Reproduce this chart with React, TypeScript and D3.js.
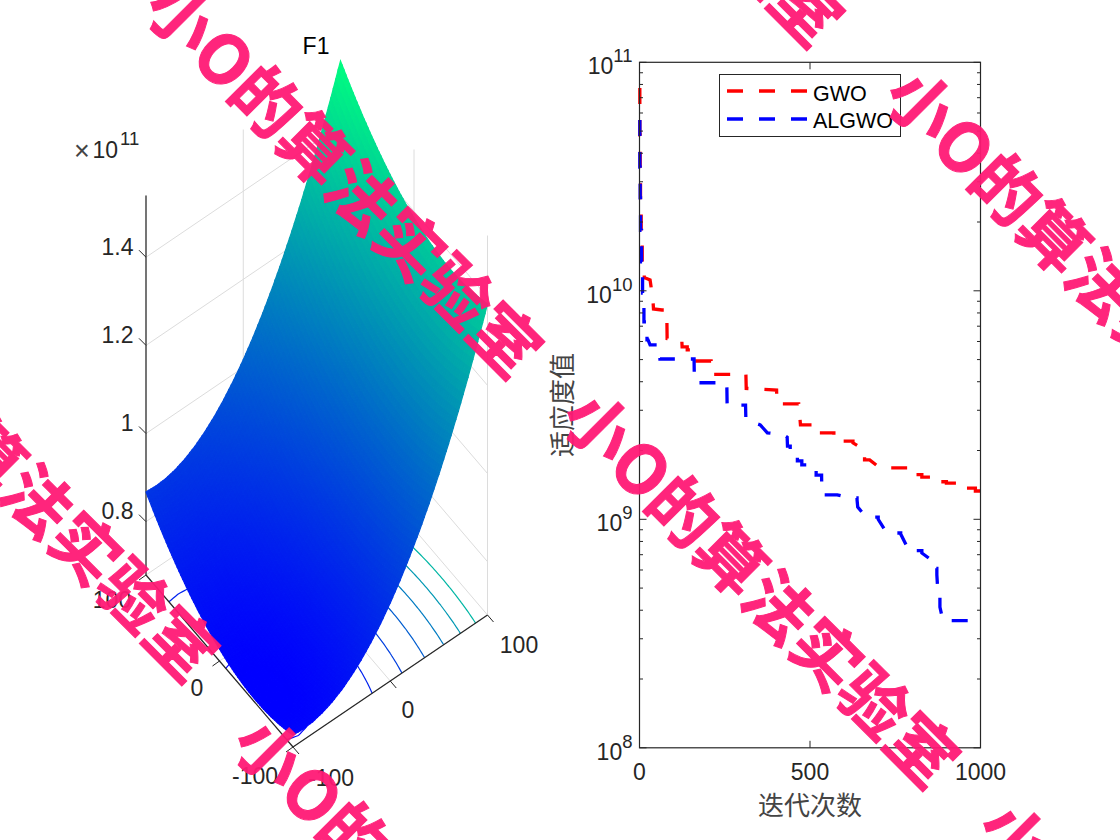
import React from 'react';
import * as d3 from 'd3';

// 左图 F1 曲面，单位 1e11；两条剖面相加得到 z
const zBase = 0.684;
const zAlongX = [0.002, 0, 0.0017, 0.0073, 0.0166, 0.0297, 0.0466, 0.0672, 0.0917, 0.1199, 0.1519, 0.1877, 0.2273, 0.2707, 0.3178, 0.3688, 0.4235, 0.482, 0.5443, 0.6104, 0.6803];
const zAlongY = [0.0202, 0.0129, 0.0073, 0.0032, 0.0008, 0, 0.0008, 0.0032, 0.0073, 0.0129, 0.0202, 0.029, 0.0395, 0.0516, 0.0653, 0.0807, 0.0976, 0.1162, 0.1363, 0.1581, 0.1815];
const contourLevels = [0.7, 0.8, 0.9, 1.0, 1.1, 1.2, 1.3, 1.4, 1.5];
const zTicks = [0.8, 1, 1.2, 1.4];
const xyTicks = [-100, 0, 100];

// 右图收敛曲线
const gwoIter = [1, 1, 2, 2, 3, 3, 5, 5, 8, 8, 14, 14, 16, 31, 34, 40, 41, 66, 80, 80, 81, 124, 125, 140, 140, 148, 149, 210, 211, 312, 313, 402, 403, 467, 470, 472, 507, 508, 570, 570, 588, 626, 626, 660, 660, 675, 705, 780, 780, 828, 828, 863, 863, 900, 900, 940, 940, 985, 985, 1000];
const gwoVal = [7.72e10, 4.81e10, 4.81e10, 3.38e10, 3.38e10, 2.5e10, 2.5e10, 1.81e10, 1.81e10, 1.34e10, 1.34e10, 1.14e10, 1.14e10, 1.115e10, 1.04e10, 8.84e9, 8.33e9, 8.24e9, 8.24e9, 8.16e9, 6.18e9, 6.09e9, 5.68e9, 5.68e9, 5.51e9, 5.51e9, 4.93e9, 4.93e9, 4.31e9, 4.31e9, 3.74e9, 3.68e9, 3.2e9, 3.2e9, 2.83e9, 2.59e9, 2.59e9, 2.39e9, 2.39e9, 2.2e9, 2.2e9, 2.2e9, 2.16e9, 2.01e9, 1.82e9, 1.82e9, 1.68e9, 1.68e9, 1.57e9, 1.57e9, 1.53e9, 1.53e9, 1.46e9, 1.46e9, 1.44e9, 1.44e9, 1.37e9, 1.37e9, 1.33e9, 1.33e9];
const algwoIter = [1, 1, 2, 2, 3, 3, 6, 6, 9, 9, 13, 13, 22, 22, 25, 31, 59, 60, 160, 161, 256, 257, 311, 312, 354, 375, 423, 433, 434, 442, 442, 450, 450, 463, 463, 476, 476, 489, 489, 502, 502, 518, 518, 534, 534, 535, 580, 618, 638, 638, 640, 665, 700, 700, 725, 766, 766, 785, 805, 805, 828, 828, 860, 866, 866, 872, 872, 875, 881, 881, 890, 1000];
const algwoVal = [5.59e10, 3.48e10, 3.48e10, 2.55e10, 2.55e10, 1.84e10, 1.84e10, 1.34e10, 1.34e10, 9.77e9, 9.77e9, 7.31e9, 7.31e9, 6.1e9, 6.1e9, 5.8e9, 5.8e9, 5.03e9, 5.03e9, 3.96e9, 3.96e9, 3.16e9, 3.16e9, 2.72e9, 2.59e9, 2.39e9, 2.34e9, 2.29e9, 2.09e9, 2.09e9, 1.98e9, 1.98e9, 1.87e9, 1.87e9, 1.8e9, 1.8e9, 1.73e9, 1.73e9, 1.66e9, 1.66e9, 1.6e9, 1.6e9, 1.56e9, 1.56e9, 1.53e9, 1.28e9, 1.28e9, 1.24e9, 1.24e9, 1.215e9, 1.13e9, 1.023e9, 1.023e9, 1e9, 8.71e8, 8.71e8, 8.62e8, 7.57e8, 7.57e8, 7.3e8, 7.3e8, 7.12e8, 6.57e8, 6.57e8, 6.1e8, 6.1e8, 5.71e8, 4.81e8, 4.81e8, 4.13e8, 3.6e8, 3.6e8];
const decades = [1e8, 1e9, 1e10, 1e11];
const iterTicks = [0, 500, 1000];

// 水印起点
const stamp = '小O的算法实验室';
const stampStarts = [[157, -6], [574, 404], [245, 730], [897, 82], [-167, 298], [458, -337], [990, 815]];

const ink = '#262626';
const latin = '"Liberation Sans", Arial, sans-serif';
const cjk = '"Noto Sans CJK SC", sans-serif';

// 三维到屏幕的投影
const toU = d3.scaleLinear().domain([-100, 100]).range([0, 1]);
const uSx = d3.scaleLinear().domain([0, 1]).range([0, 194.5]);
const uSy = d3.scaleLinear().domain([0, 1]).range([0, -132]);
const vSx = d3.scaleLinear().domain([0, 1]).range([0, -147]);
const vSy = d3.scaleLinear().domain([0, 1]).range([0, -172]);
const zSy = d3.scaleLinear().domain([0.679, 1.54]).range([0, -379.5]);
const project = (x: number, y: number, z: number): [number, number] => {
  const u = toU(x), v = toU(y);
  return [293 + uSx(u) + vSx(v), 747 + uSy(u) + vSy(v) + zSy(z)];
};

const profile = (arr: number[], t: number) => {
  const p = t * (arr.length - 1);
  const i = Math.min(Math.floor(p), arr.length - 2);
  return arr[i] + (arr[i + 1] - arr[i]) * (p - i);
};
const surfaceZ = (u: number, v: number) => zBase + profile(zAlongX, u) + profile(zAlongY, v);
const colorOf = (z: number) => {
  const t = Math.max(0, Math.min(1, (z - 0.686) / (1.546 - 0.686)));
  return d3.rgb(0, 255 * t, 255 - 127.5 * t).formatHex();
};

const sub = 80;

function surfaceQuads() {
  const out: { d: string; c: string }[] = [];
  for (let i = sub - 1; i >= 0; i--) {
    for (let j = sub - 1; j >= 0; j--) {
      const corners = [[i, j], [i + 1, j], [i + 1, j + 1], [i, j + 1]].map(([a, b]) =>
        project(a / sub * 200 - 100, b / sub * 200 - 100, surfaceZ(a / sub, b / sub))
      );
      out.push({
        d: 'M' + corners.map((p) => p[0].toFixed(2) + ',' + p[1].toFixed(2)).join('L') + 'Z',
        c: colorOf(surfaceZ((i + 0.5) / sub, (j + 0.5) / sub)),
      });
    }
  }
  return out;
}

function contourLines() {
  const n = sub + 1;
  const values: number[] = [];
  for (let j = 0; j < n; j++) for (let i = 0; i < n; i++) values.push(surfaceZ(i / sub, j / sub));
  const res = d3.contours().size([n, n]).thresholds(contourLevels)(values);
  const clampG = (g: number) => Math.max(0, Math.min(sub, g - 0.5));
  return res.map((mp) => {
    let d = '';
    mp.coordinates.forEach((poly) => poly.forEach((ring) => {
      for (let k = 1; k < ring.length; k++) {
        const a = ring[k - 1].map(clampG), b = ring[k].map(clampG);
        const onEdge = (a[0] === b[0] && (a[0] === 0 || a[0] === sub)) || (a[1] === b[1] && (a[1] === 0 || a[1] === sub));
        if (onEdge) continue;
        const pa = project(a[0] / sub * 200 - 100, a[1] / sub * 200 - 100, 0.679);
        const pb = project(b[0] / sub * 200 - 100, b[1] / sub * 200 - 100, 0.679);
        d += `M${pa[0].toFixed(2)},${pa[1].toFixed(2)}L${pb[0].toFixed(2)},${pb[1].toFixed(2)}`;
      }
    }));
    return { d, c: colorOf(mp.value) };
  });
}

function Surface3D() {
  const quads = surfaceQuads();
  const lines = contourLines();
  const corner = (x: number, y: number, z: number) => project(x, y, z);
  const seg = (a: [number, number], b: [number, number], key: string, stroke = '#dcdcdc', w = 1) => (
    <line key={key} x1={a[0]} y1={a[1]} x2={b[0]} y2={b[1]} stroke={stroke} strokeWidth={w} />
  );
  const grid: React.ReactNode[] = [];
  xyTicks.forEach((t) => {
    grid.push(seg(corner(t, 100, 0.679), corner(t, 100, 1.54), 'gx' + t));
    grid.push(seg(corner(100, t, 0.679), corner(100, t, 1.54), 'gy' + t));
    grid.push(seg(corner(t, -100, 0.679), corner(t, 100, 0.679), 'fx' + t));
    grid.push(seg(corner(-100, t, 0.679), corner(100, t, 0.679), 'fy' + t));
  });
  zTicks.forEach((z) => {
    grid.push(seg(corner(-100, 100, z), corner(100, 100, z), 'wl' + z));
    grid.push(seg(corner(100, 100, z), corner(100, -100, z), 'wr' + z));
  });
  const front = corner(-100, -100, 0.679);
  const left = corner(-100, 100, 0.679);
  const right = corner(100, -100, 0.679);
  const top = corner(-100, 100, 1.54);
  return (
    <g>
      {grid}
      {lines.map((l, i) => <path key={i} d={l.d} fill="none" stroke={l.c} strokeWidth={1.2} />)}
      {seg(front, left, 'ay', ink, 1.2)}
      {seg(front, right, 'ax', ink, 1.2)}
      {seg(left, top, 'az', ink, 1.2)}
      {xyTicks.map((t) => {
        const a = corner(t, -100, 0.679);
        const b = corner(-100, t, 0.679);
        return (
          <g key={t} stroke={ink} strokeWidth={1}>
            <line x1={a[0]} y1={a[1]} x2={a[0] + 6} y2={a[1] + 7} />
            <line x1={b[0]} y1={b[1]} x2={b[0] - 7} y2={b[1] + 5} />
          </g>
        );
      })}
      {zTicks.map((z) => {
        const a = corner(-100, 100, z);
        return <line key={z} x1={a[0]} y1={a[1]} x2={a[0] - 7} y2={a[1] - 7} stroke={ink} strokeWidth={1} />;
      })}
      {quads.map((q, i) => <path key={i} d={q.d} fill={q.c} stroke={q.c} strokeWidth={1.2} />)}
      <g fontFamily={latin} fontSize={23} fill={ink}>
        {zTicks.map((z) => (
          <text key={z} x={133.5} y={corner(-100, 100, z)[1] - 2.5} textAnchor="end">{z}</text>
        ))}
        <text x={519} y={653} textAnchor="middle">100</text>
        <text x={408} y={718} textAnchor="middle">0</text>
        <text x={331} y={786} textAnchor="middle">-100</text>
        <text x={112} y={608} textAnchor="middle">100</text>
        <text x={197} y={696} textAnchor="middle">0</text>
        <text x={255} y={784} textAnchor="middle">-100</text>
        <text x={74} y={160} fontSize={27} fill="#444">×</text>
        <text x={92.5} y={158}>10<tspan fontSize={18.5} dx={2} dy={-13}>11</tspan></text>
      </g>
      <text x={316} y={54} fontFamily={latin} fontSize={23} fill="#000" textAnchor="middle">F1</text>
    </g>
  );
}

function Convergence() {
  const x = d3.scaleLinear().domain([0, 1000]).range([639.5, 980.5]);
  const y = d3.scaleLog().domain([1e8, 1e11]).range([747.8, 62.3]);
  const line = d3.line<[number, number]>().x((d) => x(d[0])).y((d) => y(d[1]));
  const minor = y.ticks().filter((t) => !decades.some((m) => Math.abs(m - t) < 1));
  const gwo = gwoIter.map((t, i) => [t, gwoVal[i]] as [number, number]);
  const algwo = algwoIter.map((t, i) => [t, algwoVal[i]] as [number, number]);
  const [x0, x1] = x.range();
  const [y0, y1] = y.range();
  return (
    <g>
      <path d={line(gwo) || ''} fill="none" stroke="#ff0000" strokeWidth={3.3} strokeDasharray="16 16" />
      <path d={line(algwo) || ''} fill="none" stroke="#0000ff" strokeWidth={3.3} strokeDasharray="16 16" />
      <rect x={x0} y={y1} width={x1 - x0} height={y0 - y1} fill="none" stroke={ink} strokeWidth={1.2} />
      {iterTicks.map((t) => (
        <g key={t}>
          <line x1={x(t)} x2={x(t)} y1={y0} y2={y0 - 7} stroke={ink} />
          <line x1={x(t)} x2={x(t)} y1={y1} y2={y1 + 7} stroke={ink} />
          <text x={x(t)} y={779.5} textAnchor="middle" fontFamily={latin} fontSize={23} fill={ink}>{t}</text>
        </g>
      ))}
      {decades.map((d) => (
        <g key={d}>
          <line x1={x0} x2={x0 + 7} y1={y(d)} y2={y(d)} stroke={ink} />
          <line x1={x1} x2={x1 - 7} y1={y(d)} y2={y(d)} stroke={ink} />
          <text x={632.5} y={y(d) + 12} textAnchor="end" fontFamily={latin} fontSize={23} fill={ink}>
            10<tspan fontSize={18.5} dy={-12}>{Math.round(Math.log10(d))}</tspan>
          </text>
        </g>
      ))}
      {minor.map((d) => (
        <g key={d} stroke={ink}>
          <line x1={x0} x2={x0 + 3.5} y1={y(d)} y2={y(d)} />
          <line x1={x1} x2={x1 - 3.5} y1={y(d)} y2={y(d)} />
        </g>
      ))}
      <text x={810} y={815} textAnchor="middle" fontFamily={cjk} fontSize={26} fill="#444">迭代次数</text>
      <text transform="translate(572,405) rotate(-90)" textAnchor="middle" fontFamily={cjk} fontSize={26} fill="#444">适应度值</text>
      <rect x={719.5} y={74.5} width={181} height={62} fill="#fff" stroke={ink} strokeWidth={1} />
      <line x1={727} x2={807} y1={91} y2={91} stroke="#ff0000" strokeWidth={3.3} strokeDasharray="16 16" />
      <line x1={727} x2={807} y1={119} y2={119} stroke="#0000ff" strokeWidth={3.3} strokeDasharray="16 16" />
      <text x={813} y={100.5} fontFamily={latin} fontSize={21.5} fill="#000">GWO</text>
      <text x={813} y={128} fontFamily={latin} fontSize={21.5} fill="#000">ALGWO</text>
    </g>
  );
}

export default function App() {
  return (
    <svg width={1120} height={840} style={{ position: 'fixed', left: 0, top: 0, background: '#fff' }}>
      <Surface3D />
      <Convergence />
      {stampStarts.map(([sx, sy], i) => (
        <text
          key={i}
          transform={`translate(${sx},${sy}) rotate(45)`}
          dy="0.35em"
          fontFamily={cjk}
          fontWeight={700}
          fontSize={67.5}
          fill="#ff1a75"
          stroke="#ff1a75"
          strokeWidth={1}
          opacity={0.95}
        >
          {stamp}
        </text>
      ))}
    </svg>
  );
}
